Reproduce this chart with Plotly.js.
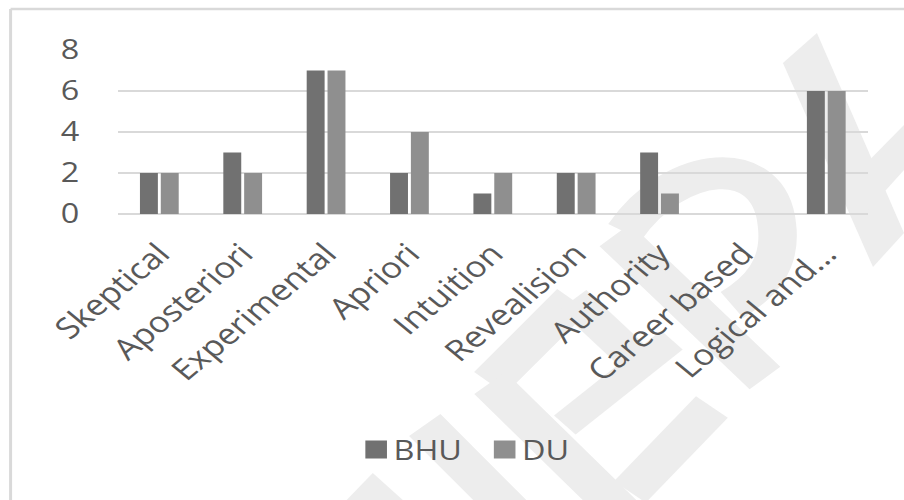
<!DOCTYPE html>
<html>
<head>
<meta charset="utf-8">
<script src="https://cdn.plot.ly/plotly-3.0.1.min.js"></script>
<style>
  html, body { margin: 0; padding: 0; background: #ffffff; overflow: hidden; }
  #wrap { width: 904px; height: 500px; overflow: hidden; position: relative; }
  /* the chart is laid out narrower and widened horizontally, so the type looks wide */
  #chart { width: 753px; height: 500px; transform: scaleX(1.2005); transform-origin: 0 0; }
</style>
</head>
<body>
<div id="wrap"><div id="chart"></div></div>
<script>
// Ways of knowing, counts per university
const categories = ["Skeptical", "Aposteriori", "Experimental", "Apriori", "Intuition",
                    "Revealision", "Authority", "Career based", "Logical and..."];
const bhuValues = [2, 3, 7, 2, 1, 2, 3, 0, 6];
const duValues  = [2, 2, 7, 4, 2, 2, 1, 0, 6];
const seriesNames = ["BHU", "DU"];
const yTicks = [0, 2, 4, 6, 8];

const W = 753, H = 500;
const M = { l: 98.3, r: 30, t: 50, b: 286 };
const S = 904 / W;
const plotW = W - M.l - M.r, plotH = H - M.t - M.b;

// screen pixel -> paper coordinates (for the border and background logo)
const px = x => ((x / S) - M.l) / plotW;
const py = y => (H - M.b - y) / plotH;
const pathOf = (pts, close) =>
  pts.map((p, i) => (i ? "L" : "M") + px(p[0]).toFixed(4) + "," + py(p[1]).toFixed(4)).join(" ") + (close ? " Z" : "");

const TEXT = "#595959";
const LOGO = "#ededed";
const FONT = "Open Sans, Noto Sans, sans-serif";

const logoPolys = [
  [[783, 63], [817, 33], [904, 233], [873, 267]],
  [[845, 185], [904, 125], [904, 170], [868, 210]],
  [[347, 500], [373, 473], [403, 500]]
];
const logoStrokes = [
  { pts: [[490, 383], [573, 300]], w: 34 },
  { pts: [[490, 383], [625, 515]], w: 34 },
  { pts: [[573, 300], [650, 372]], w: 30 },
  { pts: [[565, 425], [672, 340]], w: 26 },
  { pts: [[630, 492], [712, 407]], w: 34 },
  { pts: [[615, 235], [765, 378]], w: 34 },
  { pts: [[425, 425], [515, 515]], w: 34 }
];

const shapes = [];
logoPolys.forEach(p => shapes.push({
  type: "path", xref: "paper", yref: "paper", layer: "below",
  path: pathOf(p, true), fillcolor: LOGO, line: { width: 0 }
}));
logoStrokes.forEach(s => shapes.push({
  type: "path", xref: "paper", yref: "paper", layer: "below",
  path: pathOf(s.pts, false), line: { color: LOGO, width: s.w }
}));
// rounded bowl of the logo
shapes.push({
  type: "path", xref: "paper", yref: "paper", layer: "below",
  path: "M" + px(625) + "," + py(232) + " C" + px(675) + "," + py(160) + " " + px(770) + "," + py(150) + " " +
        px(777) + "," + py(225) + " C" + px(782) + "," + py(265) + " " + px(760) + "," + py(288) + " " + px(732) + "," + py(305),
  line: { color: LOGO, width: 32 }
});
// chart frame (top and left edges)
shapes.push({ type: "line", xref: "paper", yref: "paper", layer: "above",
  x0: px(11), x1: px(904), y0: py(9), y1: py(9), line: { color: "#d9d9d9", width: 2.5 } });
shapes.push({ type: "line", xref: "paper", yref: "paper", layer: "above",
  x0: px(11), x1: px(11), y0: py(9), y1: py(500), line: { color: "#d9d9d9", width: 2.5 } });

const traces = [
  { type: "bar", name: seriesNames[0], x: categories, y: bhuValues,
    marker: { color: "#717171", line: { width: 0 } }, hoverinfo: "none" },
  { type: "bar", name: seriesNames[1], x: categories, y: duValues,
    marker: { color: "#8f8f8f", line: { width: 0 } }, hoverinfo: "none" }
];

const layout = {
  width: W, height: H,
  margin: M,
  paper_bgcolor: "#ffffff", plot_bgcolor: "rgba(0,0,0,0)",
  font: { family: FONT, color: TEXT },
  barmode: "group", bargap: 0.5, bargroupgap: 0.14,
  showlegend: true,
  legend: {
    orientation: "h", x: px(458), xanchor: "center", y: py(450), yanchor: "middle",
    font: { size: 27, color: TEXT, family: FONT }, itemclick: false, itemwidth: 35,
    bgcolor: "rgba(0,0,0,0)", tracegroupgap: 0
  },
  xaxis: {
    type: "category", tickangle: -45, ticks: "", showgrid: false, zeroline: false,
    showline: false, tickfont: { size: 29, color: TEXT, family: FONT },
    ticklabelstandoff: 16, automargin: false
  },
  yaxis: {
    range: [0, 8], tickvals: yTicks, ticks: "", showline: false,
    gridcolor: "#d9d9d9", gridwidth: 2.5, zeroline: true, zerolinecolor: "#d9d9d9", zerolinewidth: 2.5,
    tickfont: { size: 27, color: TEXT, family: FONT }, ticklabelstandoff: 31, automargin: false
  },
  shapes: shapes
};

Plotly.newPlot("chart", traces, layout, { staticPlot: true, displayModeBar: false }).then(() => {
  // larger legend swatches, kept close to their labels
  document.querySelectorAll("#chart .legendpoints path").forEach(p => {
    const t = p.getAttribute("transform") || "";
    p.setAttribute("transform", t + " translate(8,0) scale(1.5)");
  });
});
</script>
</body>
</html>
